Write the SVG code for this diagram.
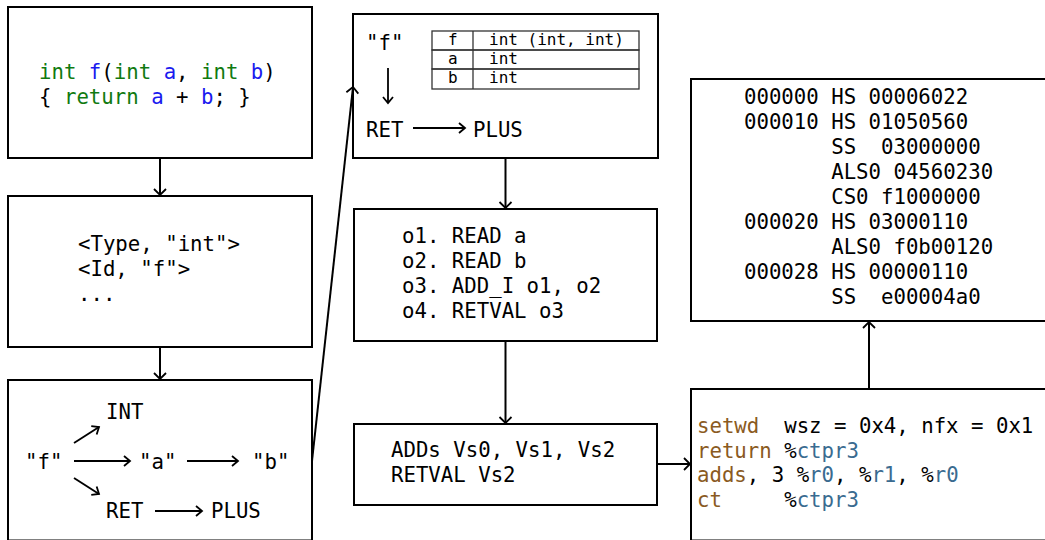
<svg xmlns="http://www.w3.org/2000/svg" width="1045" height="540" viewBox="0 0 1045 540">
<style>
  .box { fill: #fff; stroke: #000; stroke-width: 2; }
  .t { font-family: "DejaVu Sans Mono", "Liberation Mono", monospace; font-size: 20.7px; fill: #000; white-space: pre; }
  .s { font-family: "DejaVu Sans Mono", "Liberation Mono", monospace; font-size: 16px; fill: #000; white-space: pre; }
  .kw { fill: #107a10; }
  .nm { fill: #1a1aef; }
  .op { fill: #8a5a22; }
  .rg { fill: #3a6b90; }
  .cell { fill: none; stroke: #333; stroke-width: 1.3; }
  .ln { fill: none; stroke: #000; stroke-width: 2; marker-end: url(#ah); }
  .ln2 { fill: none; stroke: #000; stroke-width: 1.8; marker-end: url(#ah2); }
</style>
<defs>
  <marker id="ah" markerUnits="userSpaceOnUse" markerWidth="16" markerHeight="16" viewBox="-8 -8 16 16" refX="0" refY="0" orient="auto">
    <path d="M-6,-6 L0,0 L-6,6" fill="none" stroke="#000" stroke-width="1.8"/>
  </marker>
  <marker id="ah2" markerUnits="userSpaceOnUse" markerWidth="16" markerHeight="16" viewBox="-8 -8 16 16" refX="0" refY="0" orient="auto">
    <path d="M-6,-5 L0,0 L-6,5" fill="none" stroke="#000" stroke-width="1.8"/>
  </marker>
</defs>
<rect width="1045" height="540" fill="#fff"/>

<g id="source">
  <rect class="box" x="8" y="7" width="304" height="151"/>
  <text class="t" x="39" y="79"><tspan class="kw">int</tspan> <tspan class="nm">f</tspan>(<tspan class="kw">int</tspan> <tspan class="nm">a</tspan>, <tspan class="kw">int</tspan> <tspan class="nm">b</tspan>)</text>
  <text class="t" x="39" y="104">{ <tspan class="kw">return</tspan> <tspan class="nm">a</tspan> + <tspan class="nm">b</tspan>; }</text>
</g>

<g id="tokens">
  <rect class="box" x="8" y="196" width="304" height="151"/>
  <text class="t" x="78" y="251">&lt;Type, "int"&gt;</text>
  <text class="t" x="78" y="276">&lt;Id, "f"&gt;</text>
  <text class="t" x="78" y="301">...</text>
</g>

<g id="ast">
  <rect class="box" x="8" y="380" width="304" height="160.5"/>
  <text class="t" x="106" y="419">INT</text>
  <text class="t" x="25" y="469">"f"</text>
  <text class="t" x="139" y="469">"a"</text>
  <text class="t" x="252" y="469">"b"</text>
  <text class="t" x="106" y="518">RET</text>
  <text class="t" x="211" y="518">PLUS</text>
  <path class="ln2" d="M74,443 L99,427"/>
  <path class="ln2" d="M74,461 L130,461"/>
  <path class="ln2" d="M187,461 L238,461"/>
  <path class="ln2" d="M74,478 L99,494"/>
  <path class="ln2" d="M155,511 L202,511"/>
</g>

<g id="symtab">
  <rect class="box" x="353" y="14" width="305" height="144"/>
  <text class="t" x="366" y="50">"f"</text>
  <path class="ln2" d="M388,68 L388,103"/>
  <text class="t" x="366" y="137">RET</text>
  <path class="ln2" d="M413,128 L465,128"/>
  <text class="t" x="473" y="137">PLUS</text>
  <rect class="cell" x="432" y="31" width="207" height="19"/>
  <rect class="cell" x="432" y="50" width="207" height="19"/>
  <rect class="cell" x="432" y="69" width="207" height="20"/>
  <path class="cell" d="M473,31 L473,89"/>
  <text class="s" x="448" y="45">f</text>
  <text class="s" x="489" y="45">int (int, int)</text>
  <text class="s" x="448" y="64">a</text>
  <text class="s" x="489" y="64">int</text>
  <text class="s" x="448" y="83">b</text>
  <text class="s" x="489" y="83">int</text>
</g>

<g id="ir">
  <rect class="box" x="354" y="209" width="303" height="132"/>
  <text class="t" x="402" y="243">o1. READ a</text>
  <text class="t" x="402" y="268">o2. READ b</text>
  <text class="t" x="402" y="293">o3. ADD_I o1, o2</text>
  <text class="t" x="402" y="318">o4. RETVAL o3</text>
</g>

<g id="lir">
  <rect class="box" x="354" y="424" width="303" height="81"/>
  <text class="t" x="391" y="457">ADDs Vs0, Vs1, Vs2</text>
  <text class="t" x="391" y="482">RETVAL Vs2</text>
</g>

<g id="asm">
  <rect class="box" x="691" y="389" width="360" height="151.5"/>
  <text class="t" x="697" y="433"><tspan class="op">setwd</tspan>  wsz = 0x4, nfx = 0x1</text>
  <text class="t" x="697" y="457.5"><tspan class="op">return</tspan> %<tspan class="rg">ctpr3</tspan></text>
  <text class="t" x="697" y="482"><tspan class="op">adds</tspan>, 3 %<tspan class="rg">r0</tspan>, %<tspan class="rg">r1</tspan>, %<tspan class="rg">r0</tspan></text>
  <text class="t" x="697" y="506.5"><tspan class="op">ct</tspan>     %<tspan class="rg">ctpr3</tspan></text>
</g>

<g id="binary">
  <rect class="box" x="691" y="79" width="360" height="242"/>
  <text class="t" x="744" y="104">000000 HS 00006022</text>
  <text class="t" x="744" y="129">000010 HS 01050560</text>
  <text class="t" x="744" y="154">       SS  03000000</text>
  <text class="t" x="744" y="179">       ALS0 04560230</text>
  <text class="t" x="744" y="204">       CS0 f1000000</text>
  <text class="t" x="744" y="229">000020 HS 03000110</text>
  <text class="t" x="744" y="254">       ALS0 f0b00120</text>
  <text class="t" x="744" y="279">000028 HS 00000110</text>
  <text class="t" x="744" y="304">       SS  e00004a0</text>
</g>

<g id="connectors">
  <path class="ln" d="M160,158 L160,195"/>
  <path class="ln" d="M160,347 L160,379"/>
  <path class="ln" d="M312,461 L353,87"/>
  <path class="ln" d="M505.5,158 L505.5,208"/>
  <path class="ln" d="M505.5,341 L505.5,423"/>
  <path class="ln" d="M657,464 L690,464"/>
  <path class="ln" d="M869,388 L869,322"/>
</g>
</svg>
